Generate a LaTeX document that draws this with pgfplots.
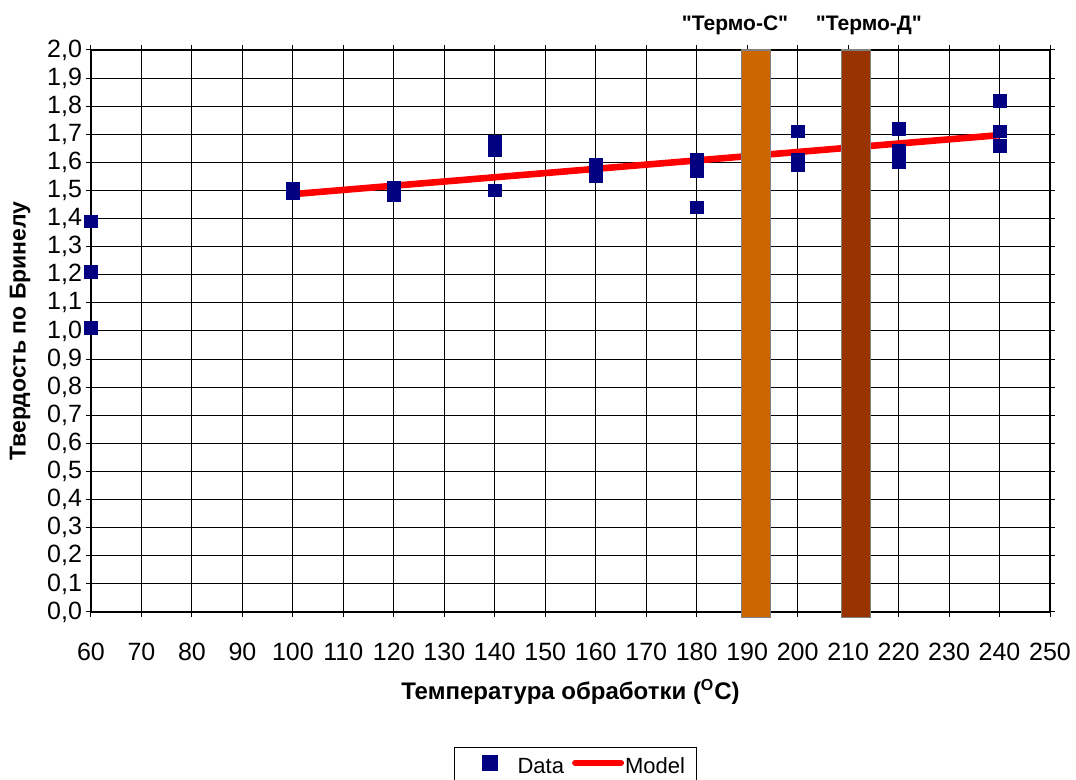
\documentclass[border=0pt]{standalone}
\usepackage{fontspec}
\setmainfont{Liberation Sans}[Ligatures=TeXOff]
\usepackage{pgfplots}
\pgfplotsset{compat=1.18}
\usetikzlibrary{calc}
\definecolor{navyblue}{RGB}{0,0,128}
\definecolor{termoC}{RGB}{204,102,0}
\definecolor{termoD}{RGB}{153,51,0}
\newcommand{\tickfont}{\fontsize{12.5}{14}\selectfont}
\begin{document}
\begin{tikzpicture}
\begin{axis}[
    scale only axis,
    width=479.5pt, height=281pt,
    xmin=60, xmax=250, ymin=0, ymax=2,
    clip=false,
    xtick={60,70,...,250},
    ytick={0,0.1,...,2.01},
    grid=major,
    major grid style={black, line width=0.5pt},
    axis line style={black, line width=0.6pt},
    tick align=outside,
    major tick length=2.5pt,
    tick style={black, line width=0.5pt},
    tick label style={font=\tickfont},
    /pgf/number format/assume math mode=true,
    yticklabel style={xshift=1.5pt, /pgf/number format/.cd, fixed, fixed zerofill, precision=1, use comma},
    xticklabel style={yshift=-9.5pt},
    xlabel={\textbf{Температура обработки (\textsuperscript{O}C)}},
    ylabel={\textbf{Твердость по Бринелу}},
    xlabel style={font=\fontsize{12}{14}\selectfont, at={(axis description cs:0.5,-0.142)}, anchor=center},
    ylabel style={font=\fontsize{11.5}{14}\selectfont, at={(axis description cs:-0.074,0.5)}, anchor=center},
    legend style={at={(0.505,-0.240)}, anchor=north, draw=black, line width=0.5pt,
        legend columns=-1, font=\fontsize{11}{13}\selectfont, inner xsep=3.5pt, inner ysep=3pt,
        /tikz/every odd column/.append style={column sep=0pt},
        /tikz/every even column/.append style={column sep=2pt}},
    legend cell align=left,
]
\addplot[only marks, mark=square*, mark size=3.2pt, color=navyblue,
    legend image code/.code={\path[draw=none, fill=none] (0pt,-4pt) rectangle (26pt,6pt);
        \fill[navyblue] (10.5pt,-2pt) rectangle (18pt,5.5pt);}] coordinates {
    (60,1.39) (60,1.21) (60,1.01)
    (100,1.505) (100,1.49)
    (120,1.51) (120,1.485)
    (140,1.675) (140,1.645) (140,1.50)
    (160,1.59) (160,1.57) (160,1.55)
    (180,1.61) (180,1.57) (180,1.44)
    (200,1.71) (200,1.61) (200,1.59)
    (220,1.72) (220,1.64) (220,1.62) (220,1.60)
    (240,1.82) (240,1.71) (240,1.66)
};
\addlegendentry{\raisebox{-1pt}{Data}}
\addplot[red, line width=3.3pt, no marks,
    legend image code/.code={\path[draw=none, fill=none] (0pt,-4pt) rectangle (26pt,6pt);
        \draw[red, line width=3pt, line cap=round] (1.5pt,2pt) -- (24.5pt,2pt);}] coordinates {
    (100,1.487) (240,1.697)
};
\addlegendentry{\hspace{-1.5pt}Model}
\addplot[fill=termoC, draw=gray, line width=0.6pt, forget plot] coordinates {
    (188.8,-0.02) (194.6,-0.02) (194.6,2) (188.8,2)} -- cycle;
\addplot[fill=termoD, draw=gray, line width=0.6pt, forget plot] coordinates {
    (208.7,-0.02) (214.4,-0.02) (214.4,2) (208.7,2)} -- cycle;
\node[font=\bfseries\fontsize{10.5}{12}\selectfont, anchor=center, yshift=12.5pt] at (axis cs:187.6,2) {"Термо-С"};
\node[font=\bfseries\fontsize{10.5}{12}\selectfont, anchor=center, yshift=12.5pt] at (axis cs:214.1,2) {"Термо-Д"};
\end{axis}
\pgfresetboundingbox
\path[use as bounding box] ($(current axis.south west)+(-45.5pt,-84pt)$) rectangle ($(current axis.north east)+(13pt,25pt)$);
\end{tikzpicture}
\end{document}
